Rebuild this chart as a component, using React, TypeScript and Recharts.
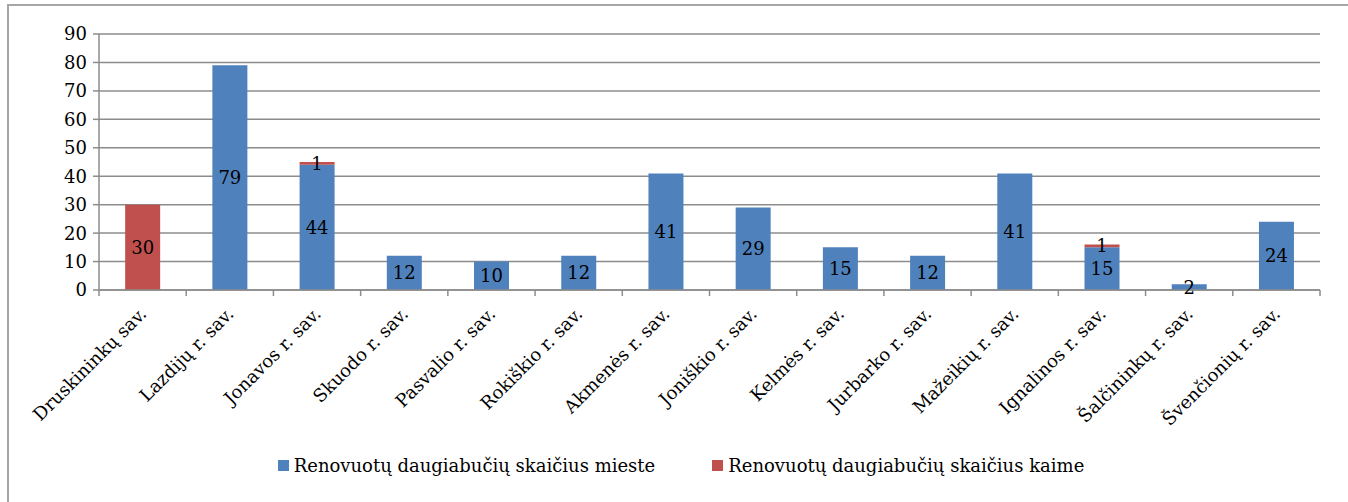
import React from 'react';
import { BarChart, Bar, XAxis, YAxis, CartesianGrid, LabelList } from 'recharts';

// savivaldybės
const categories = [
  'Druskininkų sav.',
  'Lazdijų r. sav.',
  'Jonavos r. sav.',
  'Skuodo r. sav.',
  'Pasvalio r. sav.',
  'Rokiškio r. sav.',
  'Akmenės r. sav.',
  'Joniškio r. sav.',
  'Kelmės r. sav.',
  'Jurbarko r. sav.',
  'Mažeikių r. sav.',
  'Ignalinos r. sav.',
  'Šalčininkų r. sav.',
  'Švenčionių r. sav.',
];
const miesteValues = [0, 79, 44, 12, 10, 12, 41, 29, 15, 12, 41, 15, 2, 24];
const kaimeValues = [30, 0, 1, 0, 0, 0, 0, 0, 0, 0, 0, 1, 0, 0];
const yTicks = [0, 10, 20, 30, 40, 50, 60, 70, 80, 90];

const seriesNames = {
  mieste: 'Renovuotų daugiabučių skaičius mieste',
  kaime: 'Renovuotų daugiabučių skaičius kaime',
};

const BLUE = '#4F81BD';
const RED = '#C0504D';
const FONT = '"DejaVu Serif", serif';
const FS = 18;

const data = categories.map((name, i) => ({
  name,
  mieste: miesteValues[i],
  kaime: kaimeValues[i],
}));

const hideZero = (v: any) => (Number(v) ? v : '');

// tick z žymėmis tarp kategorijų
const XTick = (props: any) => {
  const { x, y, payload, index } = props;
  const half = payload?.offset || 43.6;
  const ax = x + 5;
  const ay = y + 25;
  return (
    <g>
      <line x1={x - half} x2={x - half} y1={y} y2={y + 6} stroke="#8c8c8c" strokeWidth={1.5} />
      {index === categories.length - 1 && (
        <line x1={x + half} x2={x + half} y1={y} y2={y + 6} stroke="#8c8c8c" strokeWidth={1.5} />
      )}
      <text
        x={ax}
        y={ay}
        textAnchor="end"
        transform={`rotate(-45, ${ax}, ${ay})`}
        fontSize={FS}
        fontFamily={FONT}
        fill="#000"
      >
        {payload.value}
      </text>
    </g>
  );
};

export default function App() {
  return (
    <div
      style={{
        position: 'absolute',
        left: 0,
        top: 0,
        width: 1348,
        height: 502,
        overflow: 'hidden',
        background: '#fff',
      }}
    >
      {/* rėmelis */}
      <div
        style={{
          position: 'absolute',
          left: 7,
          top: 4,
          width: 1400,
          height: 600,
          borderLeft: '2px solid #a6a6a6',
          borderTop: '2px solid #a6a6a6',
        }}
      />
      <div style={{ position: 'absolute', left: 0, top: 0 }}>
        <BarChart
          width={1348}
          height={502}
          data={data}
          margin={{ top: 34, right: 28, left: 0, bottom: 0 }}
          barCategoryGap="30%"
        >
          <CartesianGrid vertical={false} stroke="#8c8c8c" strokeWidth={1.5} />
          <XAxis
            dataKey="name"
            interval={0}
            height={212}
            tickSize={0}
            tickMargin={0}
            tickLine={false}
            axisLine={{ stroke: '#8c8c8c', strokeWidth: 1.5 }}
            tick={<XTick />}
          />
          <YAxis
            width={99}
            domain={[0, 90]}
            ticks={yTicks}
            tickSize={6}
            tickMargin={6}
            interval={0}
            axisLine={{ stroke: '#8c8c8c', strokeWidth: 1.5 }}
            tickLine={{ stroke: '#8c8c8c', strokeWidth: 1.5 }}
            tick={{ fontSize: FS, fontFamily: FONT, fill: '#000' }}
          />
          <Bar dataKey="mieste" stackId="a" fill={BLUE} isAnimationActive={false}>
            <LabelList
              dataKey="mieste"
              position="center"
              formatter={hideZero}
              style={{ fontSize: FS, fontFamily: FONT, fill: '#000' }}
            />
          </Bar>
          <Bar dataKey="kaime" stackId="a" fill={RED} isAnimationActive={false}>
            <LabelList
              dataKey="kaime"
              position="center"
              formatter={hideZero}
              style={{ fontSize: FS, fontFamily: FONT, fill: '#000' }}
            />
          </Bar>
        </BarChart>
      </div>

      {/* legenda */}
      <div
        style={{
          position: 'absolute',
          top: 455,
          left: 0,
          width: 1362,
          display: 'flex',
          justifyContent: 'center',
          gap: 57,
          fontFamily: FONT,
          fontSize: FS,
          color: '#000',
        }}
      >
        {[
          { name: seriesNames.mieste, color: BLUE },
          { name: seriesNames.kaime, color: RED },
        ].map(item => (
          <div key={item.name} style={{ display: 'flex', alignItems: 'center', gap: 5 }}>
            <span style={{ display: 'inline-block', width: 11, height: 11, background: item.color }} />
            <span>{item.name}</span>
          </div>
        ))}
      </div>
    </div>
  );
}
